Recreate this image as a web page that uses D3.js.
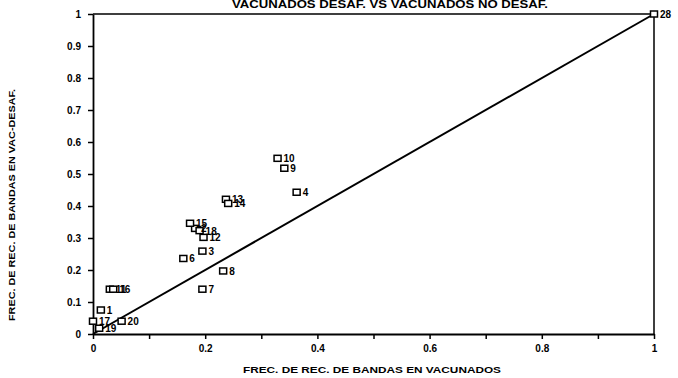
<!DOCTYPE html>
<html>
<head>
<meta charset="utf-8">
<script src="https://cdn.jsdelivr.net/npm/d3@7"></script>
<style>
  html, body { margin: 0; padding: 0; background: #fff; }
  svg { display: block; }
  text { font-family: "Liberation Sans", Arial, sans-serif; font-weight: bold; fill: #000; }
</style>
</head>
<body>
<svg id="chart" width="678" height="378"></svg>
<script>
// Band recognition frequencies: vaccinated (x) vs vaccinated-challenged (y)
const pointLabels = ["1", "2", "3", "4", "6", "7", "8", "9", "10", "11", "12", "13", "14", "15", "16", "17", "18", "19", "20", "28"];
const freqVacunados = [0.014, 0.182, 0.195, 0.363, 0.161, 0.195, 0.232, 0.341, 0.329, 0.030, 0.197, 0.237, 0.241, 0.173, 0.036, 0.000, 0.190, 0.011, 0.051, 1.000];
const freqVacDesaf  = [0.075, 0.330, 0.259, 0.443, 0.236, 0.140, 0.197, 0.518, 0.549, 0.140, 0.302, 0.421, 0.408, 0.346, 0.140, 0.040, 0.323, 0.018, 0.040, 1.000];

const xTickValues = [0, 0.1, 0.2, 0.3, 0.4, 0.5, 0.6, 0.7, 0.8, 0.9, 1];
const xTickLabels = ["0", "", "0.2", "", "0.4", "", "0.6", "", "0.8", "", "1"];
const yTickValues = [0, 0.1, 0.2, 0.3, 0.4, 0.5, 0.6, 0.7, 0.8, 0.9, 1];
const yTickLabels = ["0", "0.1", "0.2", "0.3", "0.4", "0.5", "0.6", "0.7", "0.8", "0.9", "1"];
const diagonal = [0, 1];

const titleText = "VACUNADOS DESAF. VS VACUNADOS NO DESAF.";
const xTitle = "FREC. DE REC. DE BANDAS EN VACUNADOS";
const yTitle = "FREC. DE REC. DE BANDAS EN VAC-DESAF.";

const svg = d3.select("#chart");
const x = d3.scaleLinear().domain([0, 1]).range([93, 654]);
const y = d3.scaleLinear().domain([0, 1]).range([334, 14]);

// frame (top and right edges)
svg.append("path")
  .attr("d", `M${x(0)},${y(1)}H${x(1)}V${y(0)}`)
  .attr("fill", "none").attr("stroke", "#000").attr("stroke-width", 1.5);

// axes
const xAxis = d3.axisBottom(x)
  .tickValues(xTickValues)
  .tickFormat((d, i) => xTickLabels[i])
  .tickSizeInner(5).tickSizeOuter(0).tickPadding(6);
const gx = svg.append("g").attr("transform", `translate(0,${y(0)})`).call(xAxis);

const yAxis = d3.axisLeft(y)
  .tickValues(yTickValues)
  .tickFormat((d, i) => yTickLabels[i])
  .tickSizeInner(5).tickSizeOuter(0).tickPadding(7);
const gy = svg.append("g").attr("transform", `translate(${x(0)},0)`).call(yAxis);

[gx, gy].forEach(g => {
  g.select(".domain").attr("stroke", "#000").attr("stroke-width", 1.8);
  g.selectAll(".tick line").attr("stroke", "#000").attr("stroke-width", 1.5);
  g.selectAll(".tick text")
    .style("font-family", "'Liberation Sans', Arial, sans-serif")
    .style("font-weight", "bold")
    .style("font-size", "10px")
    .attr("fill", "#000");
});

// reference line y = x
svg.append("line")
  .attr("x1", x(diagonal[0])).attr("y1", y(diagonal[0]))
  .attr("x2", x(diagonal[1])).attr("y2", y(diagonal[1]))
  .attr("stroke", "#000").attr("stroke-width", 2);

// points
const pts = pointLabels.map((l, i) => ({ label: l, vx: freqVacunados[i], vy: freqVacDesaf[i] }));
const g = svg.append("g");
g.selectAll("rect").data(pts).join("rect")
  .attr("x", d => x(d.vx) - 3.5)
  .attr("y", d => y(d.vy) - 3)
  .attr("width", 7).attr("height", 6)
  .attr("fill", "#fff").attr("stroke", "#000").attr("stroke-width", 1.5);
g.selectAll("text").data(pts).join("text")
  .attr("x", d => x(d.vx) + 6)
  .attr("y", d => y(d.vy) + 4)
  .style("font-size", "10px")
  .text(d => d.label);

// titles
svg.append("text")
  .attr("x", 390).attr("y", 8)
  .attr("text-anchor", "middle")
  .attr("textLength", 316).attr("lengthAdjust", "spacingAndGlyphs")
  .style("font-size", "10px")
  .text(titleText);

svg.append("text")
  .attr("x", 372).attr("y", 373)
  .attr("text-anchor", "middle")
  .attr("textLength", 258).attr("lengthAdjust", "spacingAndGlyphs")
  .style("font-size", "9.5px")
  .text(xTitle);

svg.append("text")
  .attr("transform", "translate(15,205) rotate(-90)")
  .attr("text-anchor", "middle")
  .attr("textLength", 232).attr("lengthAdjust", "spacingAndGlyphs")
  .style("font-size", "9px")
  .text(yTitle);
</script>
</body>
</html>
